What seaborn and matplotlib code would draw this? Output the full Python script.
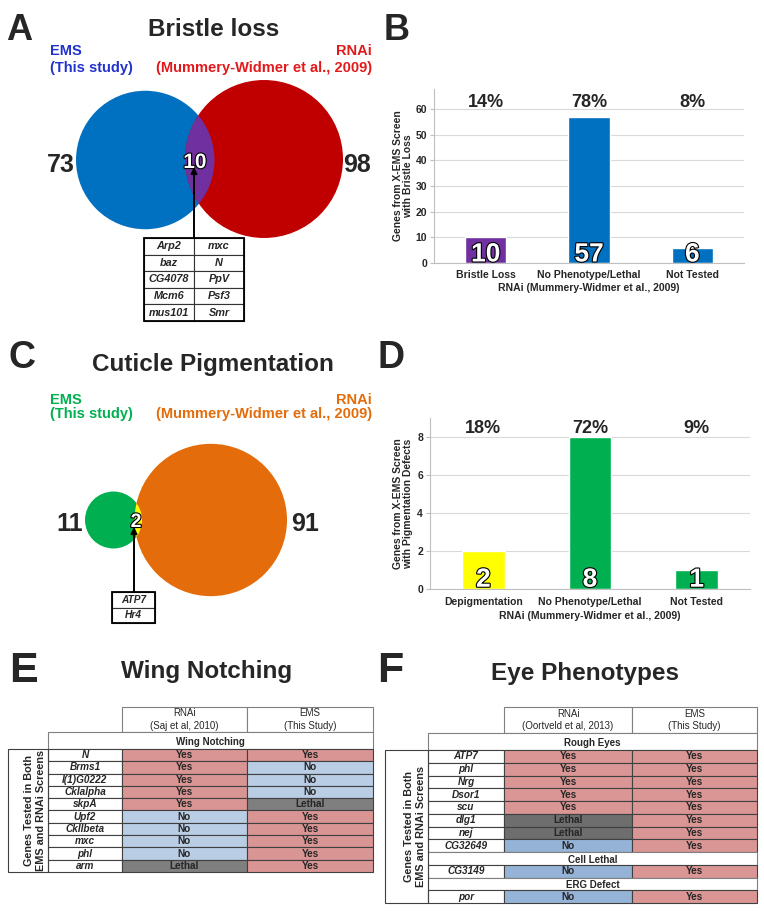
import numpy as np
import pandas as pd
import matplotlib
matplotlib.use("Agg")
import matplotlib.pyplot as plt
import seaborn as sns
from matplotlib.patches import Circle, Rectangle
import matplotlib.patheffects as pe

# ---------------- data ----------------
bristle_ems_only = 73
bristle_rnai_only = 98
bristle_overlap = 10
bristle_genes_left = ["Arp2", "baz", "CG4078", "Mcm6", "mus101"]
bristle_genes_right = ["mxc", "N", "PpV", "Psf3", "Smr"]

bristle_categories = ["Bristle Loss", "No Phenotype/Lethal", "Not Tested"]
bristle_counts = [10, 57, 6]
bristle_percents = ["14%", "78%", "8%"]
bristle_colors = ["#7030A0", "#0070C0", "#0070C0"]

pigment_ems_only = 11
pigment_rnai_only = 91
pigment_overlap = 2
pigment_genes = ["ATP7", "Hr4"]

pigment_categories = ["Depigmentation", "No Phenotype/Lethal", "Not Tested"]
pigment_counts = [2, 8, 1]
pigment_percents = ["18%", "72%", "9%"]
pigment_colors = ["#FFFF00", "#00B050", "#00B050"]

wing_genes = ["N", "Brms1", "l(1)G0222", "CkIalpha", "skpA", "Upf2", "CkIIbeta", "mxc", "phl", "arm"]
wing_rnai = ["Yes", "Yes", "Yes", "Yes", "Yes", "No", "No", "No", "No", "Lethal"]
wing_ems = ["Yes", "No", "No", "No", "Lethal", "Yes", "Yes", "Yes", "Yes", "Yes"]

eye_sections = ["Rough Eyes", "Cell Lethal", "ERG Defect"]
eye_genes = ["ATP7", "phl", "Nrg", "Dsor1", "scu", "dlg1", "nej", "CG32649", "CG3149", "por"]
eye_gene_section = [0, 0, 0, 0, 0, 0, 0, 0, 1, 2]
eye_rnai = ["Yes", "Yes", "Yes", "Yes", "Yes", "Lethal", "Lethal", "No", "No", "No"]
eye_ems = ["Yes", "Yes", "Yes", "Yes", "Yes", "Yes", "Yes", "Yes", "Yes", "Yes"]

# ---------------- setup ----------------
sns.set_theme(style="white")
plt.rcParams["font.family"] = ["Liberation Sans", "DejaVu Sans"]

W, H = 764, 911
fig = plt.figure(figsize=(W / 100, H / 100), dpi=100)
ov = fig.add_axes([0, 0, 1, 1])
ov.set_xlim(0, W)
ov.set_ylim(H, 0)
ov.axis("off")


def px_axes(x0, y0, x1, y1):
    return fig.add_axes([x0 / W, 1 - y1 / H, (x1 - x0) / W, (y1 - y0) / H])


outline = [pe.withStroke(linewidth=1.6, foreground="black")]

# panel letters & titles
for letter, x, y, fs in [("A", 6, 40, 26), ("B", 384, 40, 26), ("C", 9, 368, 27),
                         ("D", 377, 368, 27), ("E", 9, 682, 31), ("F", 377, 682, 31)]:
    ov.text(x, y, letter, fontsize=fs, fontweight="bold", va="baseline", ha="left")

for title, x, y in [("Bristle loss", 214, 36), ("Cuticle Pigmentation", 213, 371),
                    ("Wing Notching", 207, 678), ("Eye Phenotypes", 585, 680)]:
    ov.text(x, y, title, fontsize=17.5, fontweight="bold", ha="center", va="baseline")


# ---------------- Venn helpers ----------------
def venn(ems_only, rnai_only, overlap, k, c1x_left, c2x_right, cy1, cy2,
         col1, col2, colov, lab1, lab2, labov, fs_ov):
    r1 = k * np.sqrt(ems_only + overlap)
    r2 = k * np.sqrt(rnai_only + overlap)
    c1 = (c1x_left + r1, cy1)
    c2 = (c2x_right - r2, cy2)
    p1 = Circle(c1, r1, fc=col1, ec="none")
    p2 = Circle(c2, r2, fc=col2, ec="none")
    ov.add_patch(p1)
    ov.add_patch(p2)
    lens = Circle(c1, r1, fc=colov, ec="none")
    ov.add_patch(lens)
    lens.set_clip_path(p2)
    ov.text(lab1[0], lab1[1], str(ems_only), fontsize=18, fontweight="bold", ha="center", va="baseline")
    ov.text(lab2[0], lab2[1], str(rnai_only), fontsize=18, fontweight="bold", ha="center", va="baseline")
    ov.text(labov[0], labov[1], str(overlap), fontsize=fs_ov, fontweight="bold", ha="center",
            va="baseline", color="white", path_effects=outline)


# Panel A
ov.text(50, 55, "EMS", color="#2233CC", fontsize=10.5, fontweight="bold", va="baseline")
ov.text(50, 72, "(This study)", color="#2233CC", fontsize=10.5, fontweight="bold", va="baseline")
ov.text(372, 55, "RNAi", color="#E31A1C", fontsize=10.5, fontweight="bold", va="baseline", ha="right")
ov.text(372, 72, "(Mummery-Widmer et al., 2009)", color="#E31A1C", fontsize=10.5,
        fontweight="bold", va="baseline", ha="right")
venn(bristle_ems_only, bristle_rnai_only, bristle_overlap, 7.6, 76, 343, 160, 159,
     "#0070C0", "#C00000", "#7030A0", (61, 172), (357, 172), (195, 168), 15)
ov.annotate("", xy=(194, 167), xytext=(194, 238),
            arrowprops=dict(arrowstyle="-|>", lw=1.4, color="black", mutation_scale=9,
                            shrinkA=0, shrinkB=0))
rh = 16.6
for i, (g1, g2) in enumerate(zip(bristle_genes_left, bristle_genes_right)):
    y = 238 + i * rh
    for x0, g in [(144, g1), (194, g2)]:
        ov.add_patch(Rectangle((x0, y), 50, rh, fc="white", ec="#333333", lw=0.8))
        ov.text(x0 + 25, y + rh / 2, g, fontsize=7.8, fontweight="bold", fontstyle="italic",
                ha="center", va="center")
ov.add_patch(Rectangle((144, 238), 100, rh * len(bristle_genes_left), fill=False, ec="black", lw=1.3))

# Panel C
ov.text(50, 404, "EMS", color="#00B050", fontsize=10.5, fontweight="bold", va="baseline")
ov.text(50, 418, "(This study)", color="#00B050", fontsize=10.5, fontweight="bold", va="baseline")
ov.text(372, 404, "RNAi", color="#E46C0A", fontsize=10.5, fontweight="bold", va="baseline", ha="right")
ov.text(372, 418, "(Mummery-Widmer et al., 2009)", color="#E46C0A", fontsize=10.5,
        fontweight="bold", va="baseline", ha="right")
venn(pigment_ems_only, pigment_rnai_only, pigment_overlap, 7.9, 85, 287, 520, 520,
     "#00B050", "#E46C0A", "#FFFF00", (70, 531), (305, 531), (136, 527), 14)
ov.annotate("", xy=(134, 527), xytext=(134, 592),
            arrowprops=dict(arrowstyle="-|>", lw=1.4, color="black", mutation_scale=9,
                            shrinkA=0, shrinkB=0))
rh = 15.5
for i, g in enumerate(pigment_genes):
    y = 592 + i * rh
    ov.add_patch(Rectangle((112, y), 43, rh, fc="white", ec="#333333", lw=0.8))
    ov.text(133.5, y + rh / 2, g, fontsize=7.3, fontweight="bold", fontstyle="italic",
            ha="center", va="center")
ov.add_patch(Rectangle((112, 592), 43, rh * len(pigment_genes), fill=False, ec="black", lw=1.3))


# ---------------- bar charts ----------------
def bar_panel(rect, cats, counts, percents, colors, ymax, yticks, ylabel, pct_y, num_y, label_x, tickpad):
    ax = px_axes(*rect)
    df = pd.DataFrame({"cat": cats, "n": counts})
    sns.barplot(data=df, x="cat", y="n", hue="cat", palette=dict(zip(cats, colors)),
                width=0.4, legend=False, ax=ax, saturation=1)
    ax.set_xlim(-0.5, 2.5)
    ax.set_ylim(0, ymax)
    ax.set_yticks(yticks)
    ax.yaxis.grid(True, color="#D9D9D9", lw=0.8)
    ax.set_axisbelow(True)
    for s in ["top", "right"]:
        ax.spines[s].set_visible(False)
    for s in ["left", "bottom"]:
        ax.spines[s].set_color("#BFBFBF")
        ax.spines[s].set_linewidth(0.8)
    ax.set_xticks([-0.5, 0.5, 1.5, 2.5], minor=True)
    ax.tick_params(axis="x", which="major", length=0, pad=tickpad, labelsize=7.5)
    ax.tick_params(axis="x", which="minor", length=4, color="#BFBFBF", width=0.8)
    ax.tick_params(axis="y", length=3, color="#BFBFBF", width=0.8, labelsize=7.5, pad=2, left=True)
    for lab in ax.get_xticklabels() + ax.get_yticklabels():
        lab.set_fontweight("bold")
    ax.set_xlabel("RNAi (Mummery-Widmer et al., 2009)", fontsize=7.5, fontweight="bold", labelpad=2.5)
    ax.set_ylabel(ylabel, fontsize=7.5, fontweight="bold", linespacing=1.05)
    ax.yaxis.set_label_coords(label_x, 0.5)
    for i, (c, p) in enumerate(zip(counts, percents)):
        ax.text(i, pct_y, p, ha="center", va="baseline", fontsize=13, fontweight="bold", clip_on=False)
        ax.text(i, num_y, str(c), ha="center", va="baseline", fontsize=19, fontweight="bold",
                color="white", path_effects=outline, clip_on=False)
    return ax


bar_panel((434, 88.5, 744, 263), bristle_categories, bristle_counts, bristle_percents, bristle_colors,
          68, [0, 10, 20, 30, 40, 50, 60], "Genes from X-EMS Screen\nwith Bristle Loss",
          60.8, 0.6, -0.067, 5)
bar_panel((430, 418, 750, 589), pigment_categories, pigment_counts, pigment_percents, pigment_colors,
          9, [0, 2, 4, 6, 8], "Genes from X-EMS Screen\nwith Pigmentation Defects",
          8.2, 0.12, -0.053, 6)


# ---------------- tables ----------------
COL_VAL_E = {"Yes": "#D99594", "No": "#B9CDE5", "Lethal": "#7F7F7F"}
COL_VAL_F = {"Yes": "#DA9694", "No": "#95B3D7", "Lethal": "#6E6E6E"}
LINE = "#404040"
HLINE = "#808080"


def header(x_rnai, x_ems, x_right, y0, y1, rnai_txt):
    for xa, xb, txt in [(x_rnai, x_ems, rnai_txt), (x_ems, x_right, "EMS\n(This Study)")]:
        ov.add_patch(Rectangle((xa, y0), xb - xa, y1 - y0, fc="white", ec=HLINE, lw=0.8))
        ov.text((xa + xb) / 2, (y0 + y1) / 2, txt, fontsize=7, ha="center", va="center", linespacing=1.35)


def subheader(xa, xb, y0, y1, txt):
    ov.add_patch(Rectangle((xa, y0), xb - xa, y1 - y0, fc="white", ec=HLINE, lw=0.8))
    ov.text((xa + xb) / 2, (y0 + y1) / 2 + 1.5, txt, fontsize=7, fontweight="bold", ha="center", va="center")


def gene_row(x_gene, x_rnai, x_ems, x_right, y0, h, gene, rv, ev, cmap):
    ov.add_patch(Rectangle((x_gene, y0), x_rnai - x_gene, h, fc="white", ec=LINE, lw=0.8))
    ov.text((x_gene + x_rnai) / 2, y0 + h / 2, gene, fontsize=7.2, fontweight="bold",
            fontstyle="italic", ha="center", va="center")
    for xa, xb, v in [(x_rnai, x_ems, rv), (x_ems, x_right, ev)]:
        ov.add_patch(Rectangle((xa, y0), xb - xa, h, fc=cmap[v], ec=LINE, lw=0.8))
        ov.text((xa + xb) / 2, y0 + h / 2, v, fontsize=7.2, fontweight="bold", ha="center", va="center")


side_label = "Genes Tested in Both\nEMS and RNAi Screens"

# Panel E
xL, xG, xR, xE, xRt = 8, 48, 122, 247, 373
header(xR, xE, xRt, 707, 732, "RNAi\n(Saj et al, 2010)")
subheader(xG, xRt, 732, 749, "Wing Notching")
rh = 12.3
y = 749
for g, rv, ev in zip(wing_genes, wing_rnai, wing_ems):
    gene_row(xG, xR, xE, xRt, y, rh, g, rv, ev, COL_VAL_E)
    y += rh
ov.add_patch(Rectangle((xL, 749), xG - xL, y - 749, fc="none", ec=LINE, lw=0.8))
ov.text(35, (749 + y) / 2, side_label, rotation=90, fontsize=7.8, fontweight="bold",
        ha="center", va="center", linespacing=1.15)

# Panel F
xL, xG, xR, xE, xRt = 385, 428, 504, 632, 757
header(xR, xE, xRt, 707, 733, "RNAi\n(Oortveld et al, 2013)")
rh = 12.75
y = 733
current = None
for g, s, rv, ev in zip(eye_genes, eye_gene_section, eye_rnai, eye_ems):
    if s != current:
        h = 17 if current is None else rh
        subheader(xG, xRt, y, y + h, eye_sections[s])
        y += h
        if current is None:
            y_rows0 = y
        current = s
    gene_row(xG, xR, xE, xRt, y, rh, g, rv, ev, COL_VAL_F)
    y += rh
ov.add_patch(Rectangle((xL, y_rows0), xG - xL, y - y_rows0, fc="none", ec=LINE, lw=0.8))
ov.text(415, (y_rows0 + y) / 2, side_label, rotation=90, fontsize=7.8, fontweight="bold",
        ha="center", va="center", linespacing=1.15)

fig.savefig("out.png", dpi=100, facecolor="white")
